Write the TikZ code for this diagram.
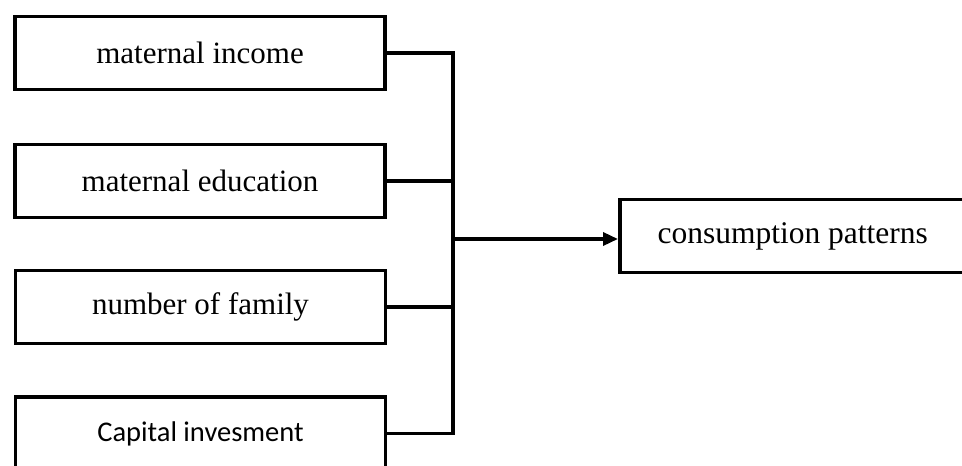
\documentclass[tikz,border=0pt]{standalone}
\usepackage{fontspec}
\setmainfont{Liberation Serif}
\newfontfamily\capfont{Carlito}
\usetikzlibrary{arrows.meta}
\tikzset{
  inbox/.style={draw, line width=3.6pt, minimum width=370pt, minimum height=73pt, inner sep=0pt, font=\fontsize{31}{34}\selectfont},
  outbox/.style={draw, line width=3.6pt, minimum width=400pt, minimum height=73pt, inner sep=0pt, font=\fontsize{31.5}{34}\selectfont},
  link/.style={line width=3.4pt},
}
\begin{document}
\begin{tikzpicture}[x=1pt,y=-1pt]
\clip (0,0) rectangle (962,466);
\fill[white] (0,0) rectangle (962,466);
\node[inbox] (b1) at (200,53) {maternal income};
\node[inbox] (b2) at (200,181) {maternal education};
\node[inbox] (b3) at (200.5,307) {number of family};
\node[inbox] (b4) at (200.5,433.5) {\raisebox{2pt}{\capfont\fontsize{28.5}{32}\selectfont Capital invesment}};
\node[outbox, anchor=west] (rb) at (618,236) {\hspace*{-54pt}consumption patterns};
\coordinate (t) at (453,53);
\coordinate (j) at (453,239);
\coordinate (bt) at (453,433.5);
\draw[link] (b1.east) -- (t) -- (bt) -- (b4.east);
\draw[link] (b2.east) -- (b2.east -| t);
\draw[link] (b3.east) -- (b3.east -| t);
\draw[link, -{Triangle[length=15pt,width=13pt]}] (j) -- (rb.west |- j);
\end{tikzpicture}
\end{document}
